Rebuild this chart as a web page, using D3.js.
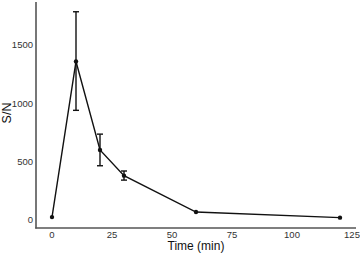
<!DOCTYPE html>
<html>
<head>
<meta charset="utf-8">
<script src="https://cdn.jsdelivr.net/npm/d3@7"></script>
<style>
body { margin: 0; background: #fff; }
svg { display: block; font-family: "Liberation Sans", Arial, sans-serif; }
</style>
</head>
<body>
<svg width="360" height="254"></svg>
<script>
var times = [0, 10, 20, 30, 60, 120];
var sn = [25, 1359, 600, 380, 68, 20];
var errLow = [25, 940, 465, 342, 68, 20];
var errHigh = [25, 1785, 736, 420, 68, 20];
var xTicks = [0, 25, 50, 75, 100, 125];
var yTicks = [0, 500, 1000, 1500];

var svg = d3.select('svg');

var x = d3.scaleLinear().domain([0, 125]).range([52, 352]);
var y = d3.scaleLinear().domain([0, 1500]).range([220, 45]);

var data = times.map(function(t, i) {
    return {t: t, v: sn[i], lo: errLow[i], hi: errHigh[i]};
});

// axis lines
svg.append('line')
    .attr('x1', 36).attr('x2', 36).attr('y1', 2).attr('y2', 228.5)
    .attr('stroke', '#555').attr('stroke-width', 1.6);
svg.append('line')
    .attr('x1', 35.2).attr('x2', 356).attr('y1', 228).attr('y2', 228)
    .attr('stroke', '#555').attr('stroke-width', 1.6);

// tick labels
svg.selectAll('.xt').data(xTicks).enter().append('text')
    .attr('class', 'xt')
    .attr('x', function(d) { return x(d); })
    .attr('y', 237.5)
    .attr('text-anchor', 'middle')
    .attr('font-size', 9.5)
    .attr('fill', '#333')
    .text(function(d) { return d; });

svg.selectAll('.yt').data(yTicks).enter().append('text')
    .attr('class', 'yt')
    .attr('x', 33)
    .attr('y', function(d) { return y(d) + 3.4; })
    .attr('text-anchor', 'end')
    .attr('font-size', 9.5)
    .attr('fill', '#333')
    .text(function(d) { return d; });

// titles
svg.append('text')
    .attr('x', 196).attr('y', 249.5)
    .attr('text-anchor', 'middle')
    .attr('font-size', 12)
    .attr('fill', '#111')
    .text('Time (min)');
svg.append('text')
    .attr('transform', 'translate(10.5,' + 113 + ') rotate(-90)')
    .attr('text-anchor', 'middle')
    .attr('font-size', 12.5)
    .attr('fill', '#111')
    .text('S/N');

// line
var line = d3.line()
    .x(function(d) { return x(d.t); })
    .y(function(d) { return y(d.v); });
svg.append('path')
    .datum(data)
    .attr('d', line)
    .attr('fill', 'none')
    .attr('stroke', '#111')
    .attr('stroke-width', 1.4);

// error bars
var eb = data.filter(function(d) { return d.hi > d.lo; });
var g = svg.append('g').attr('stroke', '#111').attr('stroke-width', 1.4);
g.selectAll('.ev').data(eb).enter().append('line')
    .attr('x1', function(d) { return x(d.t); })
    .attr('x2', function(d) { return x(d.t); })
    .attr('y1', function(d) { return y(d.lo); })
    .attr('y2', function(d) { return y(d.hi); });
g.selectAll('.et').data(eb).enter().append('line')
    .attr('x1', function(d) { return x(d.t) - 3; })
    .attr('x2', function(d) { return x(d.t) + 3; })
    .attr('y1', function(d) { return y(d.hi); })
    .attr('y2', function(d) { return y(d.hi); });
g.selectAll('.eb').data(eb).enter().append('line')
    .attr('x1', function(d) { return x(d.t) - 3; })
    .attr('x2', function(d) { return x(d.t) + 3; })
    .attr('y1', function(d) { return y(d.lo); })
    .attr('y2', function(d) { return y(d.lo); });

// points
svg.selectAll('.pt').data(data).enter().append('circle')
    .attr('cx', function(d) { return x(d.t); })
    .attr('cy', function(d) { return y(d.v); })
    .attr('r', 2.2)
    .attr('fill', '#111');
</script>
</body>
</html>
